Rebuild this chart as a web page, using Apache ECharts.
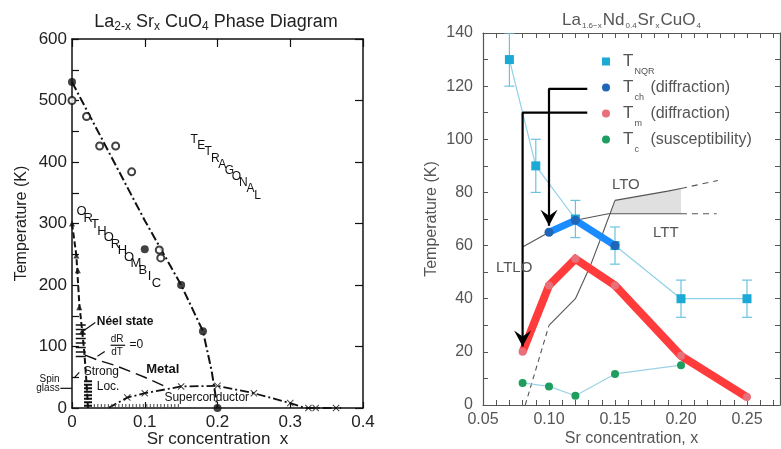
<!DOCTYPE html>
<html>
<head>
<meta charset="utf-8">
<script src="https://cdn.jsdelivr.net/npm/echarts@6/dist/echarts.min.js"></script>
<style>
  html, body { margin: 0; padding: 0; background: #fff; }
  #chart { width: 781px; height: 449px; }
</style>
</head>
<body>
<div id="chart"></div>
<script>
// ---------- Left panel: La2-xSrxCuO4 phase diagram ----------
const structLine   = [[0, 530], [0.1, 305], [0.15, 200], [0.18, 125], [0.192, 60], [0.2, 0]];
const structFilled = [[0, 530], [0.1, 258], [0.15, 200], [0.18, 125], [0.2, 0]];
const structOpen   = [[0, 500], [0.02, 474], [0.038, 426], [0.06, 426], [0.082, 384], [0.12, 257], [0.122, 244]];
const neelLine     = [[0, 300], [0.006, 248], [0.01, 170], [0.014, 125], [0.017, 90], [0.02, 40], [0.022, 0]];
const neelMarks    = [[0, 300], [0.006, 248], [0.008, 224], [0.01, 164], [0.014, 125]];
const metalLine    = [[0.018, 86], [0.035, 78], [0.06, 69], [0.1, 50], [0.13, 34]];
const scDome       = [[0.05, 0], [0.076, 17], [0.1, 24], [0.15, 35], [0.2, 36], [0.25, 24], [0.3, 8], [0.32, 0], [0.37, 0]];
const scMarks      = [[0.076, 17], [0.1, 24], [0.15, 35], [0.2, 36], [0.25, 24], [0.3, 8], [0.325, 0], [0.335, 0], [0.363, 0]];
const neelHatch    = [[0.012, 136], [0.012, 82]];
const glassHatch   = [[0.022, 45], [0.022, 2]];
const floorHatch   = [[0.03, 2.5], [0.15, 2.5]];

// ---------- Right panel: La1.6-xNd0.4SrxCuO4 ----------
const xNQR = [0.07, 0.09, 0.12, 0.15, 0.20, 0.25];
const tNQR = [130, 90, 70, 60, 40, 40];
const eNQR = [10, 10, 7, 7, 7, 7];
const xCh  = [0.10, 0.12, 0.15];
const tCh  = [65, 69.5, 60];
const xM   = [0.08, 0.10, 0.12, 0.15, 0.20, 0.25];
const tM   = [20, 45, 55, 45, 18.5, 3];
const xC   = [0.08, 0.10, 0.12, 0.15, 0.20];
const tC   = [8.3, 7, 3.5, 11.7, 15];

// structural phase boundaries
const bLTLO      = [[0.08, 59.5], [0.1, 65], [0.12, 69.5], [0.145, 72], [0.2, 72]];
const bLTLOdash  = [[0.2, 72], [0.227, 72]];
const bLTO       = [[0.15, 77], [0.19, 80.5], [0.2, 81.5]];
const bLTOdash   = [[0.2, 81.5], [0.228, 84.5]];
const bSteep     = [[0.1, 30], [0.12, 40], [0.131, 52], [0.141, 65], [0.15, 77]];
const bSteepDash = [[0.082, 0], [0.1, 30]];
const mixedRegion = [[0.146, 72], [0.15, 77], [0.19, 80.5], [0.2, 81.5], [0.2, 72]];

// pointers from the legend to the first points of T_ch and T_m
const arrowCh = [[0.129, 119], [0.1, 119], [0.1, 67.5]];
const arrowM  = [[0.129, 110], [0.08, 110], [0.08, 22]];

const FONT = 'Liberation Sans';
const INK = '#111';
const GREY = '#555';

const pair = (xs, ys) => xs.map((x, i) => [x, ys[i]]);
const XMARK = 'path://M1,0L5,4L9,0L10,1L6,5L10,9L9,10L5,6L1,10L0,9L4,5L0,1Z';
const ARROW = 'path://M0,0L9,6L18,0L9,16Z';

function arrowData(pts) {
  return pts.map((p, i) => i === pts.length - 1
    ? { value: p, symbol: ARROW, symbolSize: [17, 16], symbolOffset: [0, -8] }
    : { value: p, symbol: 'none' });
}

function leftLine(data, style) {
  return {
    type: 'line', xAxisIndex: 0, yAxisIndex: 0, data: data, symbol: 'none',
    lineStyle: Object.assign({ color: INK, width: 1.5 }, style), z: 3
  };
}
function rightLine(data, style) {
  return {
    type: 'line', xAxisIndex: 2, yAxisIndex: 2, data: data, symbol: 'none',
    lineStyle: Object.assign({ color: GREY, width: 1.1 }, style), z: 2
  };
}

const chart = echarts.init(document.getElementById('chart'));

const fmt20 = v => (Math.abs(v / 20 - Math.round(v / 20)) < 1e-6 ? String(Math.round(v)) : '');
const fmt005 = v => (Math.abs(v * 20 - Math.round(v * 20)) < 1e-6 ? v.toFixed(2) : '');
const fmt100 = v => (Math.abs(v / 100 - Math.round(v / 100)) < 1e-6 ? String(Math.round(v)) : '');

const option = {
  animation: false,
  backgroundColor: '#fff',
  textStyle: { fontFamily: FONT },
  grid: [
    { left: 72, top: 39, width: 291, height: 369, outerBoundsMode: 'none', containLabel: false },
    { left: 483, top: 33, width: 297, height: 372, outerBoundsMode: 'none', containLabel: false }
  ],
  xAxis: [
    {
      gridIndex: 0, type: 'value', min: 0, max: 0.4, interval: 0.1, position: 'bottom',
      axisLine: { onZero: false, lineStyle: { color: INK, width: 1.5 } },
      axisTick: { inside: true, length: 6, lineStyle: { color: INK, width: 1.2 } },
      axisLabel: { color: '#222', fontSize: 17, margin: 6, formatter: v => (v === 0 ? '0' : v.toFixed(1)) },
      splitLine: { show: false },
      name: 'Sr concentration  x', nameLocation: 'middle', nameGap: 23, nameMoveOverlap: false,
      nameTextStyle: { color: '#222', fontSize: 17 }
    },
    {
      gridIndex: 0, type: 'value', min: 0, max: 0.4, interval: 0.1, position: 'top',
      axisLine: { onZero: false, lineStyle: { color: INK, width: 1.5 } },
      axisTick: { inside: true, length: 8, lineStyle: { color: INK, width: 1.2 } },
      axisLabel: { show: false }, splitLine: { show: false }
    },
    {
      gridIndex: 1, type: 'value', min: 0.05, max: 0.275, interval: 0.01, position: 'bottom',
      axisLine: { onZero: false, lineStyle: { color: GREY, width: 1.2 } },
      axisTick: { inside: true, length: 5, lineStyle: { color: GREY, width: 1 } },
      axisLabel: { color: GREY, fontSize: 16, margin: 7, formatter: fmt005, showMaxLabel: false },
      splitLine: { show: false },
      name: 'Sr concentration, x', nameLocation: 'middle', nameGap: 26, nameMoveOverlap: false,
      nameTextStyle: { color: GREY, fontSize: 16 }
    },
    {
      gridIndex: 1, type: 'value', min: 0.05, max: 0.275, interval: 0.01, position: 'top',
      axisLine: { onZero: false, lineStyle: { color: GREY, width: 1.2 } },
      axisTick: { inside: true, length: 5, lineStyle: { color: GREY, width: 1 } },
      axisLabel: { show: false }, splitLine: { show: false }
    }
  ],
  yAxis: [
    {
      gridIndex: 0, type: 'value', min: 0, max: 600, interval: 50, position: 'left',
      axisLine: { onZero: false, lineStyle: { color: INK, width: 1.5 } },
      axisTick: { inside: true, length: 7, lineStyle: { color: INK, width: 1.2 } },
      axisLabel: { color: '#222', fontSize: 17, margin: 5, formatter: fmt100 },
      splitLine: { show: false },
      name: 'Temperature (K)', nameLocation: 'middle', nameGap: 42,
      nameTextStyle: { color: '#222', fontSize: 16 }
    },
    {
      gridIndex: 0, type: 'value', min: 0, max: 600, interval: 100, position: 'right',
      axisLine: { onZero: false, lineStyle: { color: INK, width: 1.5 } },
      axisTick: { inside: true, length: 8, lineStyle: { color: INK, width: 1.2 } },
      axisLabel: { show: false }, splitLine: { show: false }
    },
    {
      gridIndex: 1, type: 'value', min: 0, max: 140, interval: 10, position: 'left',
      axisLine: { onZero: false, lineStyle: { color: GREY, width: 1.2 } },
      axisTick: { inside: true, length: 5, lineStyle: { color: GREY, width: 1 } },
      axisLabel: { color: GREY, fontSize: 16, margin: 10, formatter: fmt20 },
      splitLine: { show: false },
      name: 'Temperature (K)', nameLocation: 'middle', nameGap: 43,
      nameTextStyle: { color: GREY, fontSize: 16 }
    },
    {
      gridIndex: 1, type: 'value', min: 0, max: 140, interval: 10, position: 'right',
      axisLine: { onZero: false, lineStyle: { color: GREY, width: 1.2 } },
      axisTick: { inside: true, length: 5, lineStyle: { color: GREY, width: 1 } },
      axisLabel: { show: false }, splitLine: { show: false }
    }
  ],
  legend: {
    orient: 'vertical', left: 597, top: 48, itemWidth: 8, itemHeight: 8, itemGap: 3,
    selectedMode: false,
    data: [
      { name: 'T_NQR', icon: 'rect' },
      { name: 'T_ch (diffraction)', icon: 'circle' },
      { name: 'T_m (diffraction)', icon: 'circle' },
      { name: 'T_c (susceptibility)', icon: 'circle' }
    ],
    formatter: function (name) {
      const m = name.match(/^T_(\w+)(?: (.*))?$/);
      return '{t|T}{s|' + m[1] + '}' + (m[2] ? '{p|' + m[2] + '}' : '');
    },
    textStyle: {
      color: GREY, padding: [0, 0, 0, 8],
      rich: {
        t: { fontSize: 17, color: GREY, fontFamily: FONT },
        s: { fontSize: 9, color: GREY, width: 16, padding: [20, 0, 0, 1], fontFamily: FONT },
        p: { fontSize: 16, color: GREY, fontFamily: FONT }
      }
    }
  },
  series: [
    // ----- left panel -----
    leftLine(structLine, { width: 2, type: [9, 3, 2, 3] }),
    leftLine(neelLine, { width: 2, type: [6, 3] }),
    leftLine(metalLine, { width: 1.5, type: [12, 6] }),
    leftLine(scDome, { width: 1.8, type: [9, 3, 2, 3] }),
    leftLine(neelHatch, { width: 10, type: [1.5, 3] }),
    leftLine(glassHatch, { width: 8, type: [2, 1.5] }),
    leftLine(floorHatch, { width: 5, color: '#444', type: [1, 2.5] }),
    {
      type: 'scatter', xAxisIndex: 0, yAxisIndex: 0, data: structFilled,
      symbol: 'circle', symbolSize: 8, itemStyle: { color: INK }, z: 4
    },
    {
      type: 'scatter', xAxisIndex: 0, yAxisIndex: 0, data: structOpen,
      symbol: 'emptyCircle', symbolSize: 7, itemStyle: { color: INK, borderColor: INK, borderWidth: 1.3 }, z: 4
    },
    {
      type: 'scatter', xAxisIndex: 0, yAxisIndex: 0, data: neelMarks,
      symbol: 'triangle', symbolSize: 6, itemStyle: { color: INK }, z: 4
    },
    {
      type: 'scatter', xAxisIndex: 0, yAxisIndex: 0, data: scMarks,
      symbol: XMARK, symbolSize: 7, itemStyle: { color: INK }, z: 4
    },
    // ----- right panel -----
    {
      type: 'custom', xAxisIndex: 2, yAxisIndex: 2, data: [0], z: 1, silent: true,
      renderItem: function (params, api) {
        return {
          type: 'polygon',
          shape: { points: mixedRegion.map(p => api.coord(p)) },
          style: { fill: '#e0e0e0', stroke: 'none' }
        };
      }
    },
    rightLine(bLTLO, {}),
    rightLine(bLTLOdash, { type: [6, 5] }),
    rightLine(bLTO, {}),
    rightLine(bLTOdash, { type: [6, 5] }),
    rightLine(bSteep, {}),
    rightLine(bSteepDash, { type: [5, 4] }),
    {
      type: 'custom', xAxisIndex: 2, yAxisIndex: 2, z: 3, silent: true,
      data: xNQR.map((x, i) => [x, tNQR[i] - eNQR[i], tNQR[i] + eNQR[i]]),
      renderItem: function (params, api) {
        const lo = api.coord([api.value(0), api.value(1)]);
        const hi = api.coord([api.value(0), api.value(2)]);
        const w = 5;
        const st = { stroke: '#6cc3e0', lineWidth: 1.2 };
        return {
          type: 'group',
          children: [
            { type: 'line', shape: { x1: lo[0], y1: lo[1], x2: hi[0], y2: hi[1] }, style: st },
            { type: 'line', shape: { x1: lo[0] - w, y1: lo[1], x2: lo[0] + w, y2: lo[1] }, style: st },
            { type: 'line', shape: { x1: hi[0] - w, y1: hi[1], x2: hi[0] + w, y2: hi[1] }, style: st }
          ]
        };
      },
      clip: true
    },
    {
      name: 'T_NQR', type: 'line', xAxisIndex: 2, yAxisIndex: 2, data: pair(xNQR, tNQR),
      symbol: 'rect', symbolSize: 9, itemStyle: { color: '#1ba9d6' },
      lineStyle: { color: '#8fd0e8', width: 1.2 }, z: 4
    },
    {
      name: 'T_c (susceptibility)', type: 'line', xAxisIndex: 2, yAxisIndex: 2, data: pair(xC, tC),
      symbol: 'circle', symbolSize: 8, itemStyle: { color: '#1e9e5e' },
      lineStyle: { color: '#9cd2e6', width: 1.2 }, z: 4
    },
    {
      name: 'T_m (diffraction)', type: 'line', xAxisIndex: 2, yAxisIndex: 2, data: pair(xM, tM),
      symbol: 'circle', symbolSize: 8, itemStyle: { color: '#e8707a' },
      lineStyle: { color: '#ff3b3b', width: 8, join: 'miter', cap: 'butt' }, z: 5
    },
    {
      name: 'T_ch (diffraction)', type: 'line', xAxisIndex: 2, yAxisIndex: 2, data: pair(xCh, tCh),
      symbol: 'circle', symbolSize: 9, itemStyle: { color: '#1f66b8' },
      lineStyle: { color: '#1a8cff', width: 7, join: 'miter', cap: 'butt' }, z: 5
    },
    {
      type: 'line', xAxisIndex: 2, yAxisIndex: 2, data: arrowData(arrowCh), showSymbol: true,
      itemStyle: { color: '#000' }, lineStyle: { color: '#000', width: 2.2 }, z: 6, clip: false
    },
    {
      type: 'line', xAxisIndex: 2, yAxisIndex: 2, data: arrowData(arrowM), showSymbol: true,
      itemStyle: { color: '#000' }, lineStyle: { color: '#000', width: 2.2 }, z: 6, clip: false
    }
  ]
};

chart.setOption(option);

// ---------- annotations placed in data coordinates ----------
const leftNotes = [
  { text: 'Néel state', at: [0.034, 140], size: 12, weight: 'bold', align: 'left' },
  { text: 'dR', at: [0.062, 112], size: 10, align: 'center' },
  { text: 'dT', at: [0.062, 91], size: 10, align: 'center' },
  { text: '=0', at: [0.079, 103], size: 12, align: 'left' },
  { text: 'Metal', at: [0.102, 62], size: 13, weight: 'bold', align: 'left' },
  { text: 'Strong', at: [0.016, 58.5], size: 12, align: 'left' },
  { text: 'Loc.', at: [0.034, 34], size: 12, align: 'left' },
  { text: 'Spin', at: [-0.017, 47], size: 10, align: 'right' },
  { text: 'glass', at: [-0.017, 32], size: 10, align: 'right' },
  { text: 'Superconductor', at: [0.127, 16], size: 12, align: 'left' }
];
const leftPointers = [
  [[0.014, 124], [0.032, 139]],
  [[0.053, 102], [0.073, 102]],
  [[0.045, 92], [0.035, 84]],
  [[0.01, 58], [0.003, 49]],
  [[-0.016, 32], [0, 32]]
];
const diagLabels = [
  { text: 'TETRAGONAL', from: [0.168, 436], to: [0.255, 346], size: 12 },
  { text: 'ORTHORHOMBIC', from: [0.013, 319], to: [0.116, 203], size: 13 }
];
const rightNotes = [
  { text: 'LTO', at: [0.1477, 82.8] },
  { text: 'LTT', at: [0.1788, 64.7] },
  { text: 'LTLO', at: [0.0598, 51.6] }
];

const toPx = (g, p) => chart.convertToPixel(g === 0 ? { xAxisIndex: 0, yAxisIndex: 0 } : { xAxisIndex: 2, yAxisIndex: 2 }, p);
const graphics = [];

// panel titles
graphics.push({
  type: 'text', x: 216, y: 22,
  style: {
    text: '{m|La}{s|2-x}{m| Sr}{s|x}{m| CuO}{s|4}{m| Phase Diagram}',
    align: 'center', verticalAlign: 'middle',
    rich: {
      m: { fontSize: 18, fill: '#222', fontFamily: FONT },
      s: { fontSize: 12, fill: '#222', fontFamily: FONT, padding: [9, 0, 0, 0] }
    }
  }
});
graphics.push({
  type: 'text', x: 632, y: 20,
  style: {
    text: '{m|La}{s|1.6\u2212x}{m|Nd}{s|0.4}{m|Sr}{s|x}{m|CuO}{s|4}',
    align: 'center', verticalAlign: 'middle',
    rich: {
      m: { fontSize: 17, fill: GREY, fontFamily: FONT },
      s: { fontSize: 8, fill: GREY, fontFamily: FONT, padding: [12, 1, 0, 1] }
    }
  }
});

leftNotes.forEach(n => {
  const p = toPx(0, n.at);
  graphics.push({
    type: 'text', x: p[0], y: p[1], z: 10,
    style: {
      text: n.text, fill: INK, fontFamily: FONT, fontSize: n.size,
      fontWeight: n.weight || 'normal', align: n.align, verticalAlign: 'middle'
    }
  });
});
leftPointers.forEach(seg => {
  const a = toPx(0, seg[0]), b = toPx(0, seg[1]);
  graphics.push({
    type: 'line', z: 10,
    shape: { x1: a[0], y1: a[1], x2: b[0], y2: b[1] },
    style: { stroke: INK, lineWidth: 1.2 }
  });
});
diagLabels.forEach(d => {
  const a = toPx(0, d.from), b = toPx(0, d.to);
  const n = d.text.length;
  for (let i = 0; i < n; i++) {
    const t = i / (n - 1);
    graphics.push({
      type: 'text', z: 10,
      x: a[0] + (b[0] - a[0]) * t, y: a[1] + (b[1] - a[1]) * t,
      style: {
        text: d.text[i], fill: INK, fontFamily: FONT, fontSize: d.size,
        align: 'center', verticalAlign: 'middle'
      }
    });
  }
});
rightNotes.forEach(n => {
  const p = toPx(1, n.at);
  graphics.push({
    type: 'text', x: p[0], y: p[1], z: 10,
    style: { text: n.text, fill: GREY, fontFamily: FONT, fontSize: 15, align: 'left', verticalAlign: 'middle' }
  });
});

chart.setOption({ graphic: graphics });
</script>
</body>
</html>
